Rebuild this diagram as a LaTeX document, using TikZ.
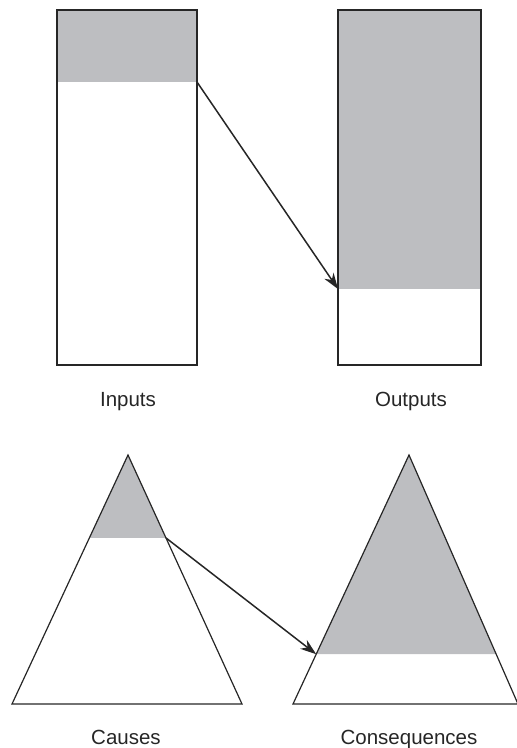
\documentclass[tikz,border=0pt]{standalone}
\usepackage{fontspec}
\setmainfont{Liberation Sans}
\usetikzlibrary{arrows.meta,calc}
\definecolor{share}{RGB}{189,190,193}
\definecolor{ink}{RGB}{38,38,38}
\def\rtop{10}
\def\rbot{365}
\def\tbase{704}

\begin{document}
\begin{tikzpicture}[x=1pt,y=-1pt,line width=1.2pt,
    lbl/.style={anchor=base,inner sep=0pt,font=\fontsize{20.5}{24}\selectfont,text=ink},
    transfer/.style={-{Stealth[length=16pt,width=11pt,inset=5pt]},ink,line width=1.5pt}]
        \useasboundingbox (0,0) rectangle (517,748);
        %
        \fill[share] (57,\rtop) rectangle (197,82); % Inputs
        \fill[share] (338,\rtop) rectangle (481,289); % Outputs
        \draw[ink,line width=1.6pt] (57,\rtop) rectangle (197,\rbot);
        \draw[ink,line width=1.6pt] (338,\rtop) rectangle (481,\rbot);
        %
        \coordinate (in) at (197,82);
        \coordinate (out) at (338,289);
        \draw[transfer] (in) -- (out);
        %
        \node[lbl] (inputs) at (128,406) {Inputs};
        \node[lbl] (outputs) at (411,406) {Outputs};
        %
        \coordinate (ca) at (128,455); % Causes
        \coordinate (cl) at (12,\tbase);
        \coordinate (cr) at (242,\tbase);
        \coordinate (ka) at (409,455); % Consequences
        \coordinate (kl) at (293,\tbase);
        \coordinate (kr) at (518,\tbase);
        \coordinate (ccl) at ($(ca)!0.333!(cl)$);
        \coordinate (ccr) at ($(ca)!0.333!(cr)$);
        \coordinate (kcl) at ($(ka)!0.8!(kl)$);
        \coordinate (kcr) at ($(ka)!0.8!(kr)$);
        %
        \fill[share] (ca) -- (ccl) -- (ccr) -- cycle;
        \fill[share] (ka) -- (kcl) -- (kcr) -- cycle;
        \draw[ink,line join=miter] (ca) -- (cl) -- (cr) -- cycle;
        \draw[ink,line join=miter] (ka) -- (kl) -- (kr) -- cycle;
        %
        \draw[transfer] (ccr) -- (kcl);
        %
        \node[lbl] (causes) at (126,744) {Causes};
        \node[lbl] (consequences) at (409,744) {Consequences};
      \end{tikzpicture}
\end{document}
